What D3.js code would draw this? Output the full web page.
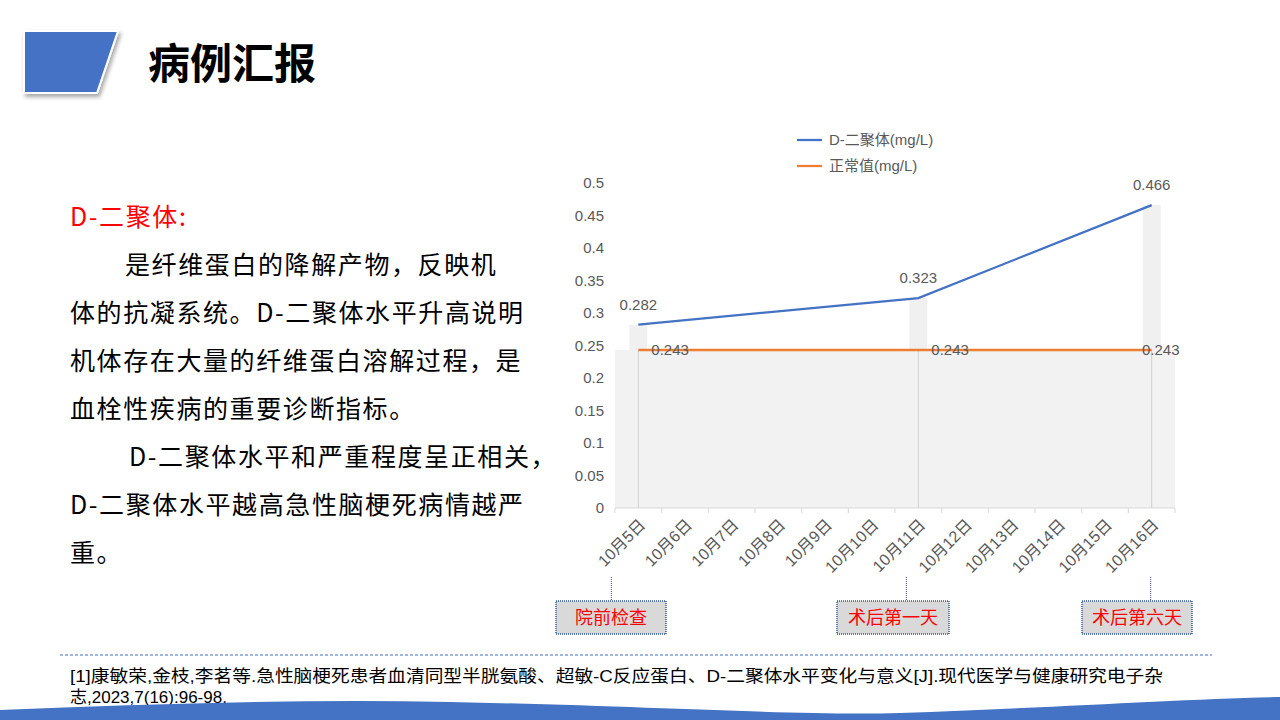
<!DOCTYPE html>
<html>
<head>
<meta charset="utf-8">
<script src="https://cdn.jsdelivr.net/npm/d3@7"></script>
<style>
  html, body { margin: 0; padding: 0; background: #fff; }
  svg { display: block; }
</style>
</head>
<body>
<svg id="slide" width="1280" height="720"></svg>
<script>
// chart values
var categories = ["10月5日", "10月6日", "10月7日", "10月8日", "10月9日", "10月10日",
  "10月11日", "10月12日", "10月13日", "10月14日", "10月15日", "10月16日"]
var dimerValues = [0.282, null, null, null, null, null, 0.323, null, null, null, null, 0.466]
var normalValues = [0.243, null, null, null, null, null, 0.243, null, null, null, null, 0.243]
var yTicks = [0, 0.05, 0.1, 0.15, 0.2, 0.25, 0.3, 0.35, 0.4, 0.45, 0.5]
var seriesNames = ["D-二聚体(mg/L)", "正常值(mg/L)"]
var stageLabels = ["院前检查", "术后第一天", "术后第六天"]
var stageDays = ["10月5日", "10月11日", "10月16日"]

var titleText = "病例汇报"
var noteTitle = "D-二聚体:"
var noteLines = ["是纤维蛋白的降解产物，反映机", "体的抗凝系统。D-二聚体水平升高说明",
  "机体存在大量的纤维蛋白溶解过程，是", "血栓性疾病的重要诊断指标。",
  "D-二聚体水平和严重程度呈正相关，", "D-二聚体水平越高急性脑梗死病情越严", "重。"]
var refLines = ["[1]康敏荣,金枝,李茗等.急性脑梗死患者血清同型半胱氨酸、超敏-C反应蛋白、D-二聚体水平变化与意义[J].现代医学与健康研究电子杂",
  "志,2023,7(16):96-98."]

var blue = "#4472C4"
var orange = "#ED7D31"
var grey = "#595959"
var cjk = "'Noto Sans CJK SC', sans-serif"
var latin = "'Liberation Sans', 'Noto Sans CJK SC', sans-serif"

var svg = d3.select("#slide")

// ---- slide decoration ----
var defs = svg.append("defs")
var shadow = defs.append("filter").attr("id", "shadow").attr("x", "-20%").attr("y", "-20%")
  .attr("width", "150%").attr("height", "150%")
shadow.append("feDropShadow").attr("dx", 2).attr("dy", 3).attr("stdDeviation", 2)
  .attr("flood-color", "#000").attr("flood-opacity", 0.35)

svg.append("path")
  .attr("d", "M24,31 L118,31 L97,93 L24,93 Z")
  .attr("fill", blue)
  .attr("stroke", "#fff")
  .attr("stroke-width", 2)
  .attr("filter", "url(#shadow)")

svg.append("text")
  .attr("x", 148).attr("y", 79)
  .attr("font-family", cjk).attr("font-weight", 700).attr("font-size", 42)
  .attr("fill", "#000")
  .text(titleText)

// left paragraph
var notes = svg.append("g").attr("font-family", cjk).attr("font-size", 25).attr("letter-spacing", "1.6px")
notes.append("text").attr("x", 70).attr("y", 226).attr("fill", "#ff0000").text(noteTitle)
notes.selectAll("text.line").data(noteLines).enter().append("text")
  .attr("class", "line")
  .attr("x", function (d, i) { return i == 0 ? 125 : (i == 4 ? 129 : 70) })
  .attr("y", function (d, i) { return 274 + i * 48 })
  .attr("fill", "#000")
  .text(function (d) { return d })

// reference
svg.append("line")
  .attr("x1", 60).attr("x2", 1212).attr("y1", 655).attr("y2", 655)
  .attr("stroke", "#7f9fd6").attr("stroke-width", 1.5).attr("stroke-dasharray", "3,2")
svg.selectAll("text.ref").data(refLines).enter().append("text")
  .attr("class", "ref")
  .attr("x", 70)
  .attr("y", function (d, i) { return 682 + i * 21 })
  .attr("font-family", latin).attr("font-size", 17).attr("fill", "#000")
  .attr("textLength", function (d, i) { return i == 0 ? 1093 : null })
  .attr("lengthAdjust", "spacingAndGlyphs")
  .text(function (d) { return d })

svg.append("path")
  .attr("d", "M0,710 C150,704 300,699 450,702 C650,706 800,716 900,713 C1050,708 1180,699 1280,697 L1280,720 L0,720 Z")
  .attr("fill", blue)

// ---- chart ----
var x = d3.scaleBand().domain(categories).range([615, 1175]).paddingInner(0).paddingOuter(0)
var y = d3.scaleLinear().domain([0, 0.5]).range([508, 183])
function cx(c) { return x(c) + x.bandwidth() / 2 }

var rows = categories.map(function (c, i) {
  return { cat: c, dimer: dimerValues[i], normal: normalValues[i] }
})
var both = rows.filter(function (d) { return d.dimer != null && d.normal != null })
var chart = svg.append("g")

// grey band below the normal value
var normalLevel = d3.max(normalValues)
var band = d3.area().x(function (d) { return d }).y0(y(0)).y1(y(normalLevel))
chart.append("path")
  .attr("d", band(x.range()))
  .attr("fill", "#f2f2f2")

// drop lines
chart.selectAll("line.drop").data(both).enter().append("line")
  .attr("class", "drop")
  .attr("x1", function (d) { return cx(d.cat) }).attr("x2", function (d) { return cx(d.cat) })
  .attr("y1", function (d) { return y(d.normal) }).attr("y2", y(0))
  .attr("stroke", "#d0d0d0").attr("stroke-width", 1)

// up bars
chart.selectAll("rect.updown").data(both).enter().append("rect")
  .attr("class", "updown")
  .attr("x", function (d) { return cx(d.cat) - 9 })
  .attr("width", 18)
  .attr("y", function (d) { return y(Math.max(d.dimer, d.normal)) })
  .attr("height", function (d) { return Math.abs(y(d.dimer) - y(d.normal)) })
  .attr("fill", "#f0f0f0")

// x axis
var xAxis = chart.append("g").attr("transform", "translate(0," + y(0) + ")")
xAxis.append("line").attr("x1", x.range()[0]).attr("x2", x.range()[1])
  .attr("stroke", "#d9d9d9").attr("stroke-width", 1)
var tickPos = categories.map(function (c) { return x(c) }).concat([x.range()[1]])
xAxis.selectAll("line.tick").data(tickPos).enter().append("line")
  .attr("class", "tick")
  .attr("x1", function (d) { return d }).attr("x2", function (d) { return d })
  .attr("y1", 0).attr("y2", 5)
  .attr("stroke", "#d9d9d9")
xAxis.selectAll("text").data(categories).enter().append("text")
  .attr("transform", function (c) { return "translate(" + (cx(c) + 4) + ",14) rotate(-45)" })
  .attr("text-anchor", "end")
  .attr("dy", "0.35em")
  .attr("font-family", latin).attr("font-size", 16).attr("fill", grey)
  .text(function (c) { return c })

// y axis labels
var yAxis = chart.append("g")
  .attr("transform", "translate(604,0)")
  .call(d3.axisLeft(y).tickValues(yTicks).tickSize(0).tickPadding(0).tickFormat(d3.format("")))
yAxis.select(".domain").remove()
yAxis.selectAll("text").attr("font-family", latin).attr("font-size", 15).attr("fill", grey)

// lines
var line = d3.line().x(function (d) { return cx(d.cat) }).y(function (d) { return y(d.v) })
var dimerPts = rows.filter(function (d) { return d.dimer != null }).map(function (d) { return { cat: d.cat, v: d.dimer } })
var normalPts = rows.filter(function (d) { return d.normal != null }).map(function (d) { return { cat: d.cat, v: d.normal } })

chart.append("path").attr("d", line(normalPts)).attr("fill", "none")
  .attr("stroke", orange).attr("stroke-width", 2.5)
chart.append("path").attr("d", line(dimerPts)).attr("fill", "none")
  .attr("stroke", blue).attr("stroke-width", 2.25)

// data labels
chart.selectAll("text.dlab").data(dimerPts).enter().append("text")
  .attr("class", "dlab")
  .attr("x", function (d) { return cx(d.cat) })
  .attr("y", function (d) { return y(d.v) - 20 })
  .attr("dy", "0.35em")
  .attr("text-anchor", "middle")
  .attr("font-family", latin).attr("font-size", 15).attr("fill", grey)
  .text(function (d) { return d.v })
chart.selectAll("text.nlab").data(normalPts).enter().append("text")
  .attr("class", "nlab")
  .attr("x", function (d) { return Math.min(cx(d.cat) + 13, 1142) })
  .attr("y", function (d) { return y(d.v) })
  .attr("dy", "0.35em")
  .attr("font-family", latin).attr("font-size", 15).attr("fill", grey)
  .text(function (d) { return d.v })

// legend
var legend = chart.selectAll("g.legend").data(seriesNames).enter().append("g")
  .attr("class", "legend")
  .attr("transform", function (d, i) { return "translate(797," + (140 + i * 26) + ")" })
legend.append("line").attr("x1", 0).attr("x2", 25)
  .attr("stroke", function (d, i) { return i == 0 ? blue : orange }).attr("stroke-width", 2.25)
legend.append("text").attr("x", 32).attr("dy", "0.35em")
  .attr("font-family", latin).attr("font-size", 15).attr("fill", grey)
  .text(function (d) { return d })

// stage callouts
var calloutLayout = [
  { lineX: -27, boxX: 556, w: 110 },
  { lineX: -12, boxX: 837, w: 112 },
  { lineX: -1, boxX: 1082, w: 110 }
]
var callouts = svg.selectAll("g.callout").data(stageLabels).enter().append("g").attr("class", "callout")
callouts.append("line")
  .attr("x1", function (d, i) { return cx(stageDays[i]) + calloutLayout[i].lineX })
  .attr("x2", function (d, i) { return cx(stageDays[i]) + calloutLayout[i].lineX })
  .attr("y1", 577).attr("y2", 601)
  .attr("stroke", "#3a4a8a").attr("stroke-width", 1).attr("stroke-dasharray", "1,1")
callouts.append("rect")
  .attr("x", function (d, i) { return calloutLayout[i].boxX })
  .attr("y", 601)
  .attr("width", function (d, i) { return calloutLayout[i].w })
  .attr("height", 33)
  .attr("fill", "#d9d9d9")
  .attr("stroke", "#2f5597").attr("stroke-width", 1.5).attr("stroke-dasharray", "1,1")
callouts.append("text")
  .attr("x", function (d, i) { return calloutLayout[i].boxX + calloutLayout[i].w / 2 })
  .attr("y", 618)
  .attr("dy", "0.35em")
  .attr("text-anchor", "middle")
  .attr("font-family", cjk).attr("font-size", 18).attr("fill", "#ff0000")
  .text(function (d) { return d })
</script>
</body>
</html>
